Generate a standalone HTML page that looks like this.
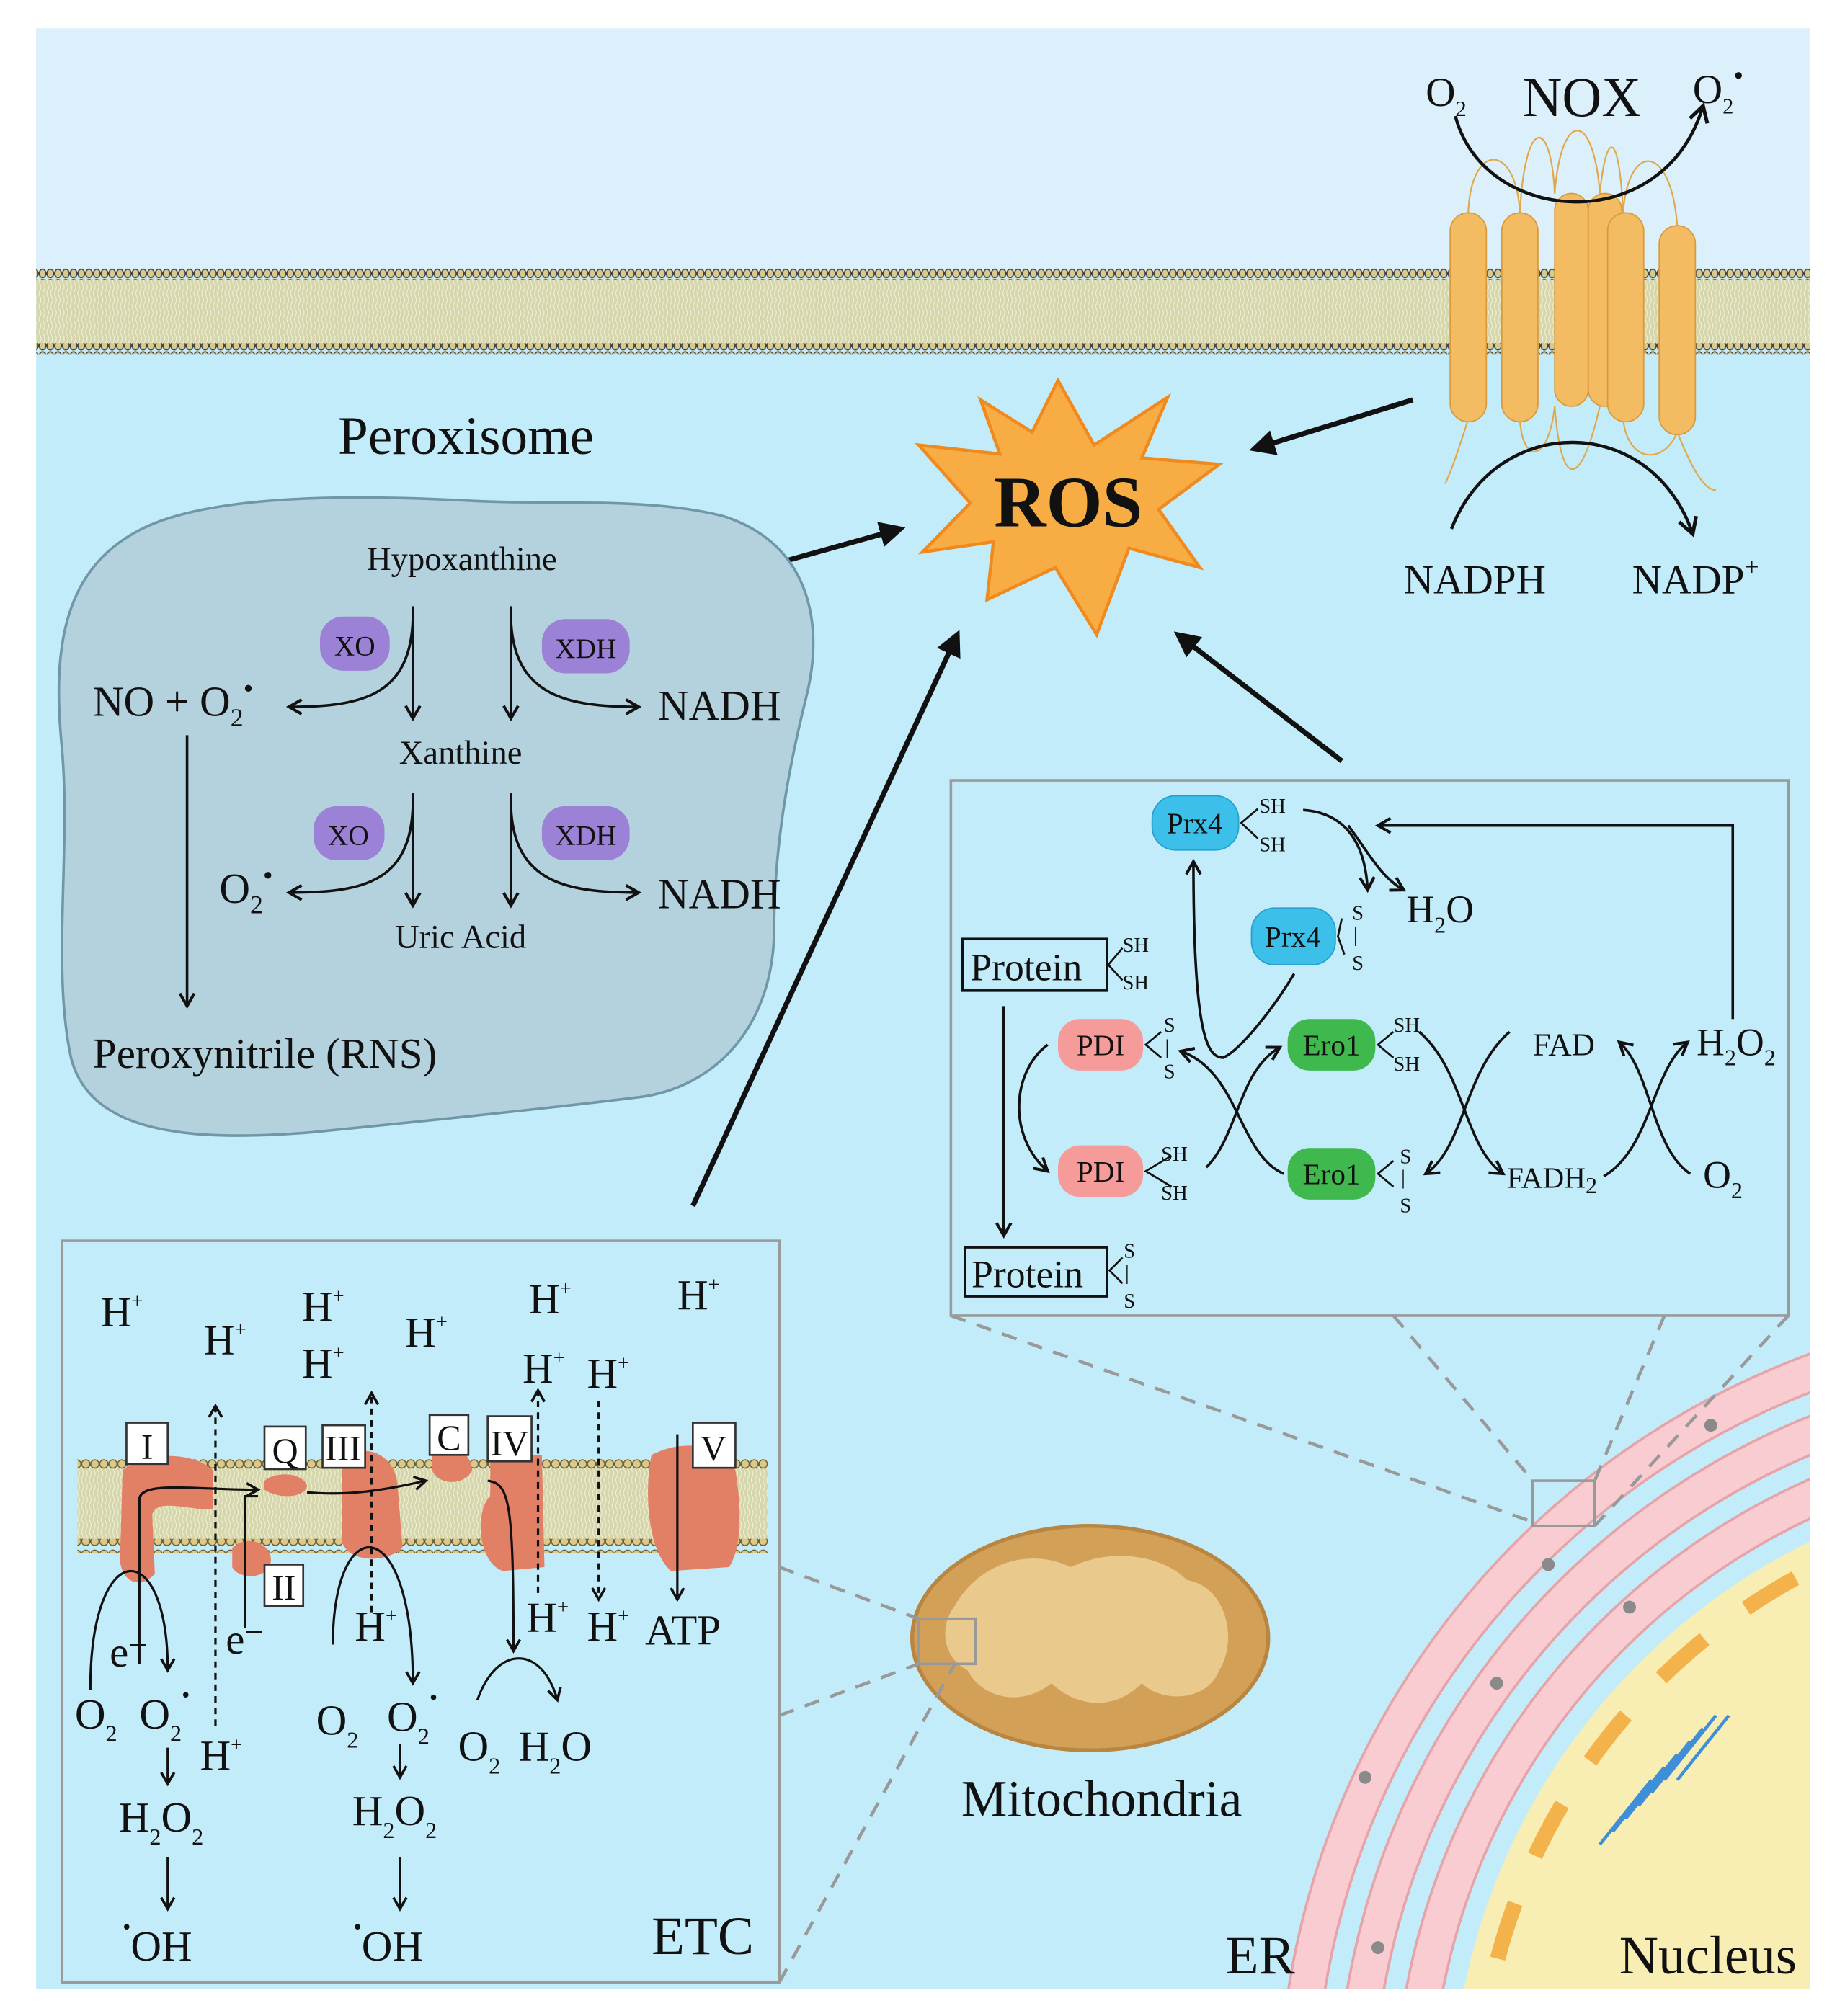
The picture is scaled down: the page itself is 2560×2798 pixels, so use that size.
<!DOCTYPE html>
<html><head><meta charset="utf-8"><style>
html,body{margin:0;padding:0;background:#fff;width:2560px;height:2798px;overflow:hidden;}
svg{display:block;}
text{font-family:"Liberation Serif",serif;fill:#111;}
</style></head><body>
<svg width="2560" height="2798" viewBox="0 0 1430 1563" preserveAspectRatio="none" xmlns="http://www.w3.org/2000/svg">
<defs>
<marker id="ah" viewBox="0 0 10 10" refX="8" refY="5" markerWidth="7" markerHeight="7" orient="auto-start-reverse"><path d="M1,1 L8,5 L1,9" fill="none" stroke="#111" stroke-width="1.6"/></marker>
<marker id="big" viewBox="0 0 10 10" refX="8" refY="5" markerWidth="5" markerHeight="5" orient="auto"><path d="M0,0 L10,5 L0,10 z" fill="#111"/></marker>
<pattern id="heads" x="0" y="0" width="6" height="8" patternUnits="userSpaceOnUse"><ellipse cx="3" cy="4" rx="2.6" ry="3.3" fill="#d9c98e" stroke="#444" stroke-width="0.9"/></pattern>
<pattern id="tails" x="0" y="0" width="3" height="10" patternUnits="userSpaceOnUse"><rect width="3" height="10" fill="#d6d6ac"/><path d="M1,0 Q2.5,2.5 1,5 Q-0.5,7.5 1,10" stroke="#eeeed4" stroke-width="0.7" fill="none"/></pattern>
<pattern id="heads2" x="0" y="0" width="7" height="10" patternUnits="userSpaceOnUse"><circle cx="3.5" cy="5" r="3.2" fill="#dcc98a" stroke="#6a5a2a" stroke-width="0.8"/></pattern>
<clipPath id="panel"><rect x="28" y="22" width="1375" height="1520"/></clipPath>
</defs>

<rect x="28" y="22" width="1375" height="1520" fill="#c3ecfa"/>
<rect x="28" y="22" width="1375" height="190" fill="#dbf0fb"/>
<rect x="28" y="216" width="1375" height="52" fill="url(#tails)"/>
<rect x="28" y="208" width="1375" height="9" fill="url(#heads)"/>
<rect x="28" y="266" width="1375" height="9" fill="url(#heads)"/>

<g fill="none" stroke="#e0a84a" stroke-width="1.2">
<path d="M1138,165 C1140,110 1175,110 1178,165"/>
<path d="M1178,165 C1182,90 1202,90 1205,150"/>
<path d="M1205,150 C1210,85 1235,85 1240,150"/>
<path d="M1240,150 C1245,100 1255,100 1258,165"/>
<path d="M1258,165 C1262,110 1295,110 1300,175"/>
<path d="M1138,325 C1130,350 1125,365 1120,375"/>
<path d="M1178,325 C1180,360 1200,360 1205,315"/>
<path d="M1205,315 C1210,380 1225,380 1240,315"/>
<path d="M1258,325 C1262,360 1290,360 1300,335"/>
<path d="M1300,335 C1310,360 1320,380 1330,380"/>
</g>
<g fill="#f4bc62" stroke="#d99b3a" stroke-width="1">
<rect x="1205" y="150" width="26" height="165" rx="13"/>
<rect x="1231" y="150" width="26" height="165" rx="13"/>
<rect x="1124" y="165" width="28" height="162" rx="14"/>
<rect x="1164" y="165" width="28" height="162" rx="14"/>
<rect x="1246" y="165" width="28" height="162" rx="14"/>
<rect x="1286" y="175" width="28" height="162" rx="14"/>
</g>
<text x="1105" y="82" font-size="32">O<tspan font-size="17" dy="8">2</tspan></text>
<text x="1180" y="90" font-size="44" textLength="92" lengthAdjust="spacingAndGlyphs">NOX</text>
<text x="1312" y="80" font-size="32">O<tspan font-size="17" dy="8">2</tspan><tspan font-size="22" dy="-22">•</tspan></text>
<path d="M1128,90 C1150,175 1290,185 1320,82" fill="none" stroke="#111" stroke-width="2.5" marker-end="url(#ah)"/>
<path d="M1125,410 C1160,320 1280,320 1312,414" fill="none" stroke="#111" stroke-width="2.5" marker-end="url(#ah)"/>
<text x="1088" y="460" font-size="32">NADPH</text>
<text x="1265" y="460" font-size="32">NADP<tspan font-size="20" dy="-14">+</tspan></text>

<polygon points="820,295 848,345 905,308 885,355 945,360 898,395 930,440 875,425 850,492 818,440 765,465 770,420 715,428 752,390 712,345 775,352 760,310 800,335" fill="#f7ad44" stroke="#f08a1e" stroke-width="2.5"/>
<text x="828" y="408" font-size="56" font-weight="bold" text-anchor="middle">ROS</text>

<g stroke="#111" stroke-width="4" marker-end="url(#big)">
<line x1="1095" y1="310" x2="972" y2="348"/>
<line x1="562" y1="448" x2="698" y2="410"/>
<line x1="537" y1="935" x2="742" y2="492"/>
<line x1="1040" y1="590" x2="913" y2="492"/>
</g>

<text x="262" y="352" font-size="42">Peroxisome</text>
<path d="M110,410 C170,380 300,385 360,388 C430,392 500,385 560,400 C625,420 640,480 625,540 C610,600 600,660 600,720 C600,790 560,840 500,850 C420,860 320,870 240,878 C150,885 70,880 55,820 C40,750 55,660 48,580 C40,500 50,440 110,410 Z" fill="#b3d2dd" stroke="#6f97a8" stroke-width="2"/>
<text x="358" y="442" font-size="26" text-anchor="middle">Hypoxanthine</text>
<rect x="248" y="478" width="54" height="42" rx="18" fill="#9c82d6"/><text x="275" y="508" font-size="22" text-anchor="middle">XO</text>
<rect x="420" y="480" width="68" height="42" rx="18" fill="#9c82d6"/><text x="454" y="510" font-size="22" text-anchor="middle">XDH</text>
<g fill="none" stroke="#111" stroke-width="2">
<line x1="320" y1="470" x2="320" y2="557" marker-end="url(#ah)"/>
<path d="M320,480 C318,540 280,548 224,548" marker-end="url(#ah)"/>
<line x1="396" y1="470" x2="396" y2="557" marker-end="url(#ah)"/>
<path d="M396,480 C398,540 440,548 495,548" marker-end="url(#ah)"/>
<line x1="320" y1="615" x2="320" y2="702" marker-end="url(#ah)"/>
<path d="M320,625 C318,685 280,692 224,692" marker-end="url(#ah)"/>
<line x1="396" y1="615" x2="396" y2="702" marker-end="url(#ah)"/>
<path d="M396,625 C398,685 440,692 495,692" marker-end="url(#ah)"/>
<line x1="145" y1="570" x2="145" y2="780" marker-end="url(#ah)"/>
</g>
<text x="72" y="555" font-size="33">NO + O<tspan font-size="20" dy="8">2</tspan><tspan font-size="22" dy="-22">•</tspan></text>
<text x="510" y="558" font-size="33">NADH</text>
<text x="357" y="592" font-size="26" text-anchor="middle">Xanthine</text>
<rect x="243" y="625" width="55" height="42" rx="18" fill="#9c82d6"/><text x="270" y="655" font-size="22" text-anchor="middle">XO</text>
<rect x="420" y="625" width="68" height="42" rx="18" fill="#9c82d6"/><text x="454" y="655" font-size="22" text-anchor="middle">XDH</text>
<text x="170" y="700" font-size="33">O<tspan font-size="20" dy="8">2</tspan><tspan font-size="22" dy="-22">•</tspan></text>
<text x="510" y="704" font-size="33">NADH</text>
<text x="357" y="735" font-size="26" text-anchor="middle">Uric Acid</text>
<text x="72" y="828" font-size="33">Peroxynitrile (RNS)</text>

<g clip-path="url(#panel)">
<circle cx="1620" cy="1640" r="495" fill="#f8eeb3"/>
<circle cx="1620" cy="1640" r="475" fill="none" stroke="#f4b24a" stroke-width="12" stroke-dasharray="45 40"/>
<g fill="none" stroke="#e6a3a8" stroke-width="30">
<circle cx="1620" cy="1640" r="525"/>
<circle cx="1620" cy="1640" r="570"/>
<circle cx="1620" cy="1640" r="615"/>
</g>
<g fill="none" stroke="#f8ccd0" stroke-width="26">
<circle cx="1620" cy="1640" r="525"/>
<circle cx="1620" cy="1640" r="570"/>
<circle cx="1620" cy="1640" r="615"/>
</g>
<g fill="#8a8a8a"><circle cx="1326" cy="1105" r="5"/><circle cx="1200" cy="1213" r="5"/><circle cx="1263" cy="1246" r="5"/><circle cx="1160" cy="1305" r="5"/><circle cx="1058" cy="1378" r="5"/><circle cx="1068" cy="1510" r="5"/></g>
<path d="M1340,1330 l-40,50 M1330,1330 l-40,50 M1320,1340 l-40,50 M1310,1350 l-40,50 M1300,1360 l-40,50 M1290,1370 l-40,50 M1280,1380 l-40,50" stroke="#3f8fd8" stroke-width="2.5"/>
</g>
<text x="950" y="1530" font-size="42">ER</text>
<text x="1255" y="1530" font-size="42">Nucleus</text>

<ellipse cx="845" cy="1270" rx="138" ry="87" fill="#d3a058" stroke="#b98642" stroke-width="3"/>
<path d="M740,1245 C760,1210 800,1200 830,1215 C860,1200 900,1205 920,1225 C950,1230 960,1270 945,1295 C935,1320 900,1320 885,1305 C860,1330 830,1320 815,1305 C790,1325 760,1315 750,1295 C730,1285 728,1260 740,1245 Z" fill="#e9c98c"/>
<text x="745" y="1408" font-size="40">Mitochondria</text>
<rect x="712" y="1255" width="44" height="35" fill="none" stroke="#999" stroke-width="2"/>
<rect x="1188" y="1148" width="48" height="35" fill="none" stroke="#999" stroke-width="2"/>
<g stroke="#999" stroke-width="2.5" stroke-dasharray="12 9" fill="none">
<line x1="604" y1="1215" x2="712" y2="1255"/>
<line x1="604" y1="1330" x2="712" y2="1290"/>
<line x1="604" y1="1537" x2="740" y2="1290"/>
<line x1="737" y1="1020" x2="1188" y2="1180"/>
<line x1="1080" y1="1020" x2="1188" y2="1148"/>
<line x1="1290" y1="1020" x2="1236" y2="1148"/>
<line x1="1386" y1="1020" x2="1236" y2="1183"/>
</g>

<rect x="737" y="605" width="649" height="415" fill="#c3ecfa" stroke="#9a9a9a" stroke-width="2"/>
<rect x="893" y="617" width="67" height="42" rx="18" fill="#3cbfe9" stroke="#2a9fcf"/><text x="926" y="646" font-size="23" text-anchor="middle">Prx4</text>
<rect x="970" y="704" width="65" height="44" rx="18" fill="#3cbfe9" stroke="#2a9fcf"/><text x="1002" y="734" font-size="23" text-anchor="middle">Prx4</text>
<rect x="820" y="790" width="66" height="40" rx="17" fill="#f59c9a"/><text x="853" y="818" font-size="23" text-anchor="middle">PDI</text>
<rect x="820" y="888" width="66" height="40" rx="17" fill="#f59c9a"/><text x="853" y="916" font-size="23" text-anchor="middle">PDI</text>
<rect x="998" y="790" width="68" height="40" rx="17" fill="#3fb94e"/><text x="1032" y="818" font-size="23" text-anchor="middle">Ero1</text>
<rect x="998" y="890" width="68" height="40" rx="17" fill="#3fb94e"/><text x="1032" y="918" font-size="23" text-anchor="middle">Ero1</text>
<rect x="746" y="728" width="112" height="40" fill="none" stroke="#111" stroke-width="2"/><text x="752" y="760" font-size="30">Protein</text>
<rect x="748" y="967" width="110" height="38" fill="none" stroke="#111" stroke-width="2"/><text x="753" y="998" font-size="30">Protein</text>
<g fill="none" stroke="#111" stroke-width="1.5">
<path d="M975,627 L962,638 L975,650"/><path d="M1040,712 L1037,726 L1042,740"/>
<path d="M870,735 L859,748 L870,760"/><path d="M900,800 L888,810 L900,820"/>
<path d="M908,896 L888,908 L908,920"/><path d="M1080,800 L1068,810 L1080,820"/>
<path d="M1080,900 L1068,910 L1080,920"/><path d="M870,975 L860,985 L870,995"/>
</g>
<g font-size="16">
<text x="976" y="630">SH</text><text x="976" y="660">SH</text>
<text x="1048" y="713">S</text><text x="1049" y="730">|</text><text x="1048" y="752">S</text>
<text x="870" y="738">SH</text><text x="870" y="767">SH</text>
<text x="902" y="800">S</text><text x="903" y="817">|</text><text x="902" y="836">S</text>
<text x="900" y="900">SH</text><text x="900" y="930">SH</text>
<text x="1080" y="800">SH</text><text x="1080" y="830">SH</text>
<text x="1085" y="902">S</text><text x="1086" y="918">|</text><text x="1085" y="940">S</text>
<text x="871" y="975">S</text><text x="872" y="992">|</text><text x="871" y="1014">S</text>
</g>
<text x="1090" y="715" font-size="30">H<tspan font-size="18" dy="8">2</tspan><tspan dy="-8">O</tspan></text>
<text x="1188" y="818" font-size="25">FAD</text>
<text x="1315" y="818" font-size="30">H<tspan font-size="18" dy="8">2</tspan><tspan dy="-8">O</tspan><tspan font-size="18" dy="8">2</tspan></text>
<text x="1168" y="921" font-size="23">FADH<tspan font-size="18" dy="4">2</tspan></text>
<text x="1320" y="921" font-size="30">O<tspan font-size="18" dy="8">2</tspan></text>
<g fill="none" stroke="#111" stroke-width="2">
<path d="M1010,628 C1040,630 1058,650 1060,690" marker-end="url(#ah)"/>
<path d="M1045,640 C1060,660 1070,680 1088,690" marker-end="url(#ah)"/>
<path d="M1343,790 L1343,640 L1068,640" marker-end="url(#ah)"/>
<path d="M1003,755 C985,785 960,815 948,820 C935,820 925,800 925,668" marker-end="url(#ah)"/>
<line x1="778" y1="780" x2="778" y2="958" marker-end="url(#ah)"/>
<path d="M812,810 C785,830 780,880 812,908" marker-end="url(#ah)"/>
<path d="M935,905 C960,880 960,830 992,812" marker-end="url(#ah)"/>
<path d="M995,910 C960,895 960,830 915,815" marker-end="url(#ah)"/>
<path d="M1100,800 C1135,830 1135,890 1165,910" marker-end="url(#ah)"/>
<path d="M1170,800 C1135,830 1135,890 1105,910" marker-end="url(#ah)"/>
<path d="M1310,910 C1280,890 1280,830 1255,808" marker-end="url(#ah)"/>
<path d="M1243,912 C1280,890 1280,830 1308,808" marker-end="url(#ah)"/>
</g>

<rect x="48" y="962" width="556" height="575" fill="#c3ecfa" stroke="#9a9a9a" stroke-width="2"/>
<rect x="60" y="1138" width="535" height="56" fill="url(#tails)"/>
<rect x="60" y="1130" width="535" height="11" fill="url(#heads2)"/>
<rect x="60" y="1193" width="535" height="11" fill="url(#heads2)"/>
<g fill="#e28065">
<path d="M95,1140 C110,1125 150,1125 165,1140 L165,1170 C150,1172 120,1160 118,1175 L120,1220 C110,1232 95,1228 93,1210 Z"/>
<path d="M205,1148 C215,1140 235,1142 238,1152 C236,1162 215,1162 205,1155 Z"/>
<path d="M180,1200 C190,1190 210,1195 210,1210 C208,1225 185,1225 180,1215 Z"/>
<path d="M265,1130 C285,1118 305,1128 308,1150 L312,1200 C300,1212 270,1212 265,1195 Z"/>
<path d="M335,1128 C350,1118 365,1125 366,1140 C360,1152 340,1152 335,1140 Z"/>
<path d="M380,1130 L420,1128 L422,1215 L390,1218 C370,1212 368,1170 380,1160 Z"/>
<path d="M505,1128 C530,1115 560,1120 570,1140 C575,1170 575,1200 565,1215 L520,1218 C500,1200 500,1150 505,1128 Z"/>
</g>
<g fill="#fff" stroke="#333" stroke-width="1.5">
<rect x="98" y="1103" width="32" height="32"/><rect x="205" y="1106" width="32" height="33"/>
<rect x="250" y="1105" width="33" height="33"/><rect x="333" y="1097" width="30" height="31"/>
<rect x="378" y="1098" width="34" height="35"/><rect x="537" y="1103" width="33" height="35"/>
<rect x="205" y="1213" width="30" height="32"/>
</g>
<g font-size="28" text-anchor="middle">
<text x="114" y="1131">I</text><text x="221" y="1134">Q</text><text x="266" y="1132">III</text>
<text x="348" y="1124">C</text><text x="395" y="1128">IV</text><text x="553" y="1132">V</text>
<text x="220" y="1240">II</text>
</g>
<g font-size="33">
<text x="78" y="1028">H<tspan font-size="16" dy="-14">+</tspan></text>
<text x="158" y="1050">H<tspan font-size="16" dy="-14">+</tspan></text>
<text x="234" y="1024">H<tspan font-size="16" dy="-14">+</tspan></text>
<text x="234" y="1068">H<tspan font-size="16" dy="-14">+</tspan></text>
<text x="314" y="1044">H<tspan font-size="16" dy="-14">+</tspan></text>
<text x="410" y="1018">H<tspan font-size="16" dy="-14">+</tspan></text>
<text x="405" y="1072">H<tspan font-size="16" dy="-14">+</tspan></text>
<text x="455" y="1076">H<tspan font-size="16" dy="-14">+</tspan></text>
<text x="525" y="1015">H<tspan font-size="16" dy="-14">+</tspan></text>
<text x="155" y="1372">H<tspan font-size="16" dy="-14">+</tspan></text>
<text x="275" y="1272">H<tspan font-size="16" dy="-14">+</tspan></text>
<text x="408" y="1265">H<tspan font-size="16" dy="-14">+</tspan></text>
<text x="455" y="1272">H<tspan font-size="16" dy="-14">+</tspan></text>
<text x="500" y="1275">ATP</text>
<text x="85" y="1292">e<tspan font-size="26" dy="-8">−</tspan></text>
<text x="175" y="1282">e<tspan font-size="26" dy="-8">−</tspan></text>
<text x="58" y="1340">O<tspan font-size="18" dy="10">2</tspan></text>
<text x="108" y="1340">O<tspan font-size="18" dy="10">2</tspan><tspan font-size="18" dy="-30">•</tspan></text>
<text x="92" y="1420">H<tspan font-size="18" dy="10">2</tspan><tspan dy="-10">O</tspan><tspan font-size="18" dy="10">2</tspan></text>
<text x="95" y="1520"><tspan font-size="18" dy="-20">•</tspan><tspan dy="20">OH</tspan></text>
<text x="245" y="1345">O<tspan font-size="18" dy="10">2</tspan></text>
<text x="300" y="1342">O<tspan font-size="18" dy="10">2</tspan><tspan font-size="18" dy="-30">•</tspan></text>
<text x="273" y="1415">H<tspan font-size="18" dy="10">2</tspan><tspan dy="-10">O</tspan><tspan font-size="18" dy="10">2</tspan></text>
<text x="274" y="1520"><tspan font-size="18" dy="-20">•</tspan><tspan dy="20">OH</tspan></text>
<text x="355" y="1365">O<tspan font-size="18" dy="10">2</tspan></text>
<text x="402" y="1365">H<tspan font-size="18" dy="10">2</tspan><tspan dy="-10">O</tspan></text>
</g>
<text x="505" y="1515" font-size="42">ETC</text>
<g fill="none" stroke="#111" stroke-width="1.8">
<line x1="167" y1="1338" x2="167" y2="1090" stroke-dasharray="5 4" marker-end="url(#ah)"/>
<line x1="288" y1="1250" x2="288" y2="1080" stroke-dasharray="5 4" marker-end="url(#ah)"/>
<line x1="417" y1="1235" x2="417" y2="1078" stroke-dasharray="5 4" marker-end="url(#ah)"/>
<line x1="464" y1="1086" x2="464" y2="1240" stroke-dasharray="5 4" marker-end="url(#ah)"/>
<line x1="525" y1="1112" x2="525" y2="1240" marker-end="url(#ah)"/>
<path d="M70,1310 C70,1190 130,1190 130,1295" marker-end="url(#ah)"/>
<path d="M108,1290 L108,1162 C110,1148 150,1155 200,1155" marker-end="url(#ah)"/>
<path d="M190,1262 L190,1160 L200,1160"/>
<path d="M238,1157 C270,1160 300,1155 330,1148" marker-end="url(#ah)"/>
<path d="M258,1275 C258,1170 320,1170 320,1305" marker-end="url(#ah)"/>
<path d="M378,1148 C395,1150 398,1165 398,1280" marker-end="url(#ah)"/>
<path d="M370,1318 C385,1275 420,1275 432,1318" marker-end="url(#ah)"/>
<line x1="130" y1="1355" x2="130" y2="1383" marker-end="url(#ah)"/>
<line x1="130" y1="1440" x2="130" y2="1480" marker-end="url(#ah)"/>
<line x1="310" y1="1352" x2="310" y2="1378" marker-end="url(#ah)"/>
<line x1="310" y1="1440" x2="310" y2="1480" marker-end="url(#ah)"/>
</g>
</svg>
</body></html>
